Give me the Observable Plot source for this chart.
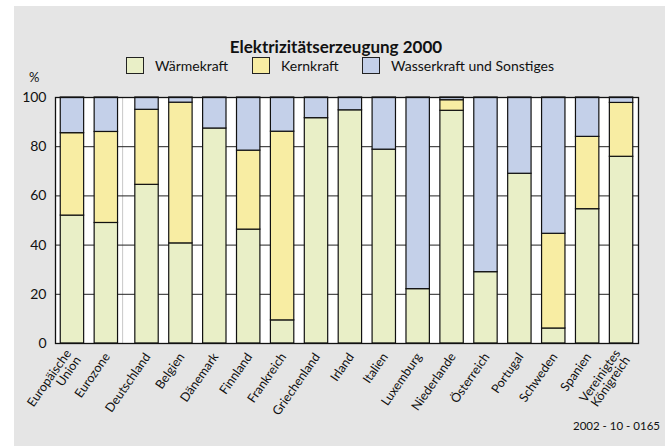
<!DOCTYPE html>
<html><head><meta charset="utf-8">
<script src="https://cdn.jsdelivr.net/npm/d3@7"></script>
<script src="https://cdn.jsdelivr.net/npm/@observablehq/plot@0.6"></script>
<style>
html,body{margin:0;padding:0;background:#fff;}
#wrap{position:relative;width:672px;height:446px;overflow:hidden;font-family:Lato,"Open Sans",sans-serif;color:#111;}
#panel{position:absolute;left:14px;top:6px;width:651px;height:440px;background:#e5e5e5;}
#title{position:absolute;left:0;width:672px;top:38px;line-height:17px;text-align:center;font-weight:bold;font-size:17px;}
.leg{position:absolute;top:57px;line-height:17px;font-size:14px;display:flex;align-items:center;}
.sw{display:inline-block;width:16px;height:15px;border:1.3px solid #222;margin-right:11px;}
#pct{position:absolute;left:29px;top:71px;line-height:13px;font-size:13px;}
#chart{position:absolute;left:0;top:80px;}
#foot{position:absolute;right:12px;top:419px;font-size:11.5px;}
</style></head>
<body>
<div id="wrap">
  <div id="panel"></div>
  <div id="title">Elektrizitätserzeugung 2000</div>
  <div id="legend"></div>
  <div id="pct">%</div>
  <div id="chart"></div>
  <div id="foot">2002 - 10 - 0165</div>
</div>
<script>
const categories = ["Europäische\nUnion","Eurozone","Deutschland","Belgien","Dänemark","Finnland","Frankreich","Griechenland","Irland","Italien","Luxemburg","Niederlande","Österreich","Portugal","Schweden","Spanien","Vereinigtes\nKönigreich"];
const waerme = [52.0, 49.0, 64.5, 40.7, 87.4, 46.3, 9.4, 91.6, 94.8, 78.8, 22.1, 94.6, 29.0, 69.0, 6.1, 54.6, 75.9];
const kern   = [33.5, 37.0, 30.5, 57.2, 0, 32.1, 76.7, 0, 0, 0, 0, 4.3, 0, 0, 38.5, 29.4, 21.9];
const wasser = [14.5, 14.0, 5.0, 2.1, 12.6, 21.6, 13.9, 8.4, 5.2, 21.2, 77.9, 1.1, 71.0, 31.0, 55.4, 16.0, 2.2];
const seriesNames = ["Wärmekraft","Kernkraft","Wasserkraft und Sonstiges"];
const seriesColors = ["#e9efc7","#f8eda3","#c4d0e9"];
const yTicks = [0,20,40,60,80,100];
const gridTicks = [20,40,60,80];

// legend
const legendX = [126, 252, 362];
const legend = document.getElementById("legend");
seriesNames.forEach((n,i)=>{
  const d = document.createElement("div");
  d.className = "leg"; d.style.left = legendX[i]+"px";
  d.innerHTML = `<span class="sw" style="background:${seriesColors[i]}"></span><span>${n}</span>`;
  legend.appendChild(d);
});

// positions: small extra gap after the two aggregates
const pos = categories.map((c,i)=> i < 2 ? i : i + 0.2);
const half = 0.345;
const rows = [];
categories.forEach((c,i)=>{
  const vals = [waerme[i], kern[i], wasser[i]];
  let acc = 0;
  vals.forEach((v,s)=>{
    if (v > 0) rows.push({cat:c, s:seriesNames[s], x1:pos[i]-half, x2:pos[i]+half, y1:acc, y2:acc+v});
    acc += v;
  });
});
const labels = categories.map((c,i)=>({t:c, x:pos[i]}));
const sep = [pos[1] + 0.48];

const chart = Plot.plot({
  width: 672, height: 366,
  marginLeft: 55, marginRight: 34, marginTop: 17, marginBottom: 103,
  style: {background:"transparent", fontFamily:"Lato, 'Open Sans', sans-serif", fontSize:"14px", color:"#111"},
  x: {domain:[-0.5, pos[pos.length-1]+0.5], axis:null},
  y: {domain:[0,100], ticks:yTicks, tickSize:0, tickPadding:9, label:null},
  color: {domain: seriesNames, range: seriesColors},
  marks: [
    Plot.frame({fill:"white", stroke:null}),
    Plot.ruleX(sep, {stroke:"#c8c8c8", strokeWidth:1}),
    Plot.ruleY(gridTicks, {stroke:"#222", strokeWidth:1}),
    Plot.rect(rows, {x1:"x1", x2:"x2", y1:"y1", y2:"y2", fill:"s", stroke:"#111", strokeWidth:1.2}),
    Plot.frame({stroke:"#111", strokeWidth:1.3}),
    Plot.text(labels, {x:"x", y:()=>0, text:"t", rotate:-55, textAnchor:"end", lineAnchor:"middle", dy:11, dx:1, fontSize:12.5, lineHeight:0.95, fill:"#111"})
  ]
});
document.getElementById("chart").appendChild(chart);
</script>
</body></html>
